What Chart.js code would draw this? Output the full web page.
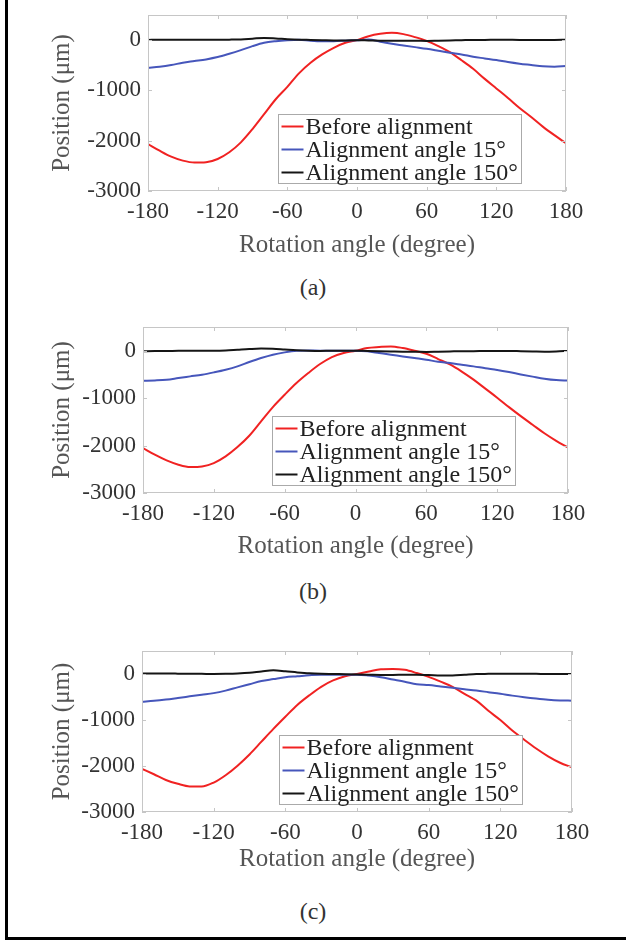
<!DOCTYPE html>
<html>
<head>
<meta charset="utf-8">
<script src="https://cdn.jsdelivr.net/npm/chart.js@4.4.1/dist/chart.umd.min.js"></script>
<style>
    html, body { margin: 0; padding: 0; background: #fff; }
    #page { position: relative; width: 626px; height: 941px; overflow: hidden; background: #fff; }
    .panel { position: absolute; left: 0; width: 626px; }
    .caption { position: absolute; left: 0; width: 626px; text-align: center; font: 24px 'Liberation Serif', serif; line-height: 26px; color: #333; }
    .frame-left { position: absolute; left: 5px; top: 0; width: 3px; height: 940px; background: #000; }
    .frame-bottom { position: absolute; left: 5px; top: 937px; width: 621px; height: 3px; background: #000; }
</style>
</head>
<body>
<div id="page">
    <div class="frame-left"></div>
    <div class="frame-bottom"></div>
</div>
<script>
(function() {
    'use strict';

    // x positions of the samples (degrees)
    var angles = [-180, -170, -160, -150, -140, -130, -120, -110, -100, -90, -80, -70, -60, -50, -40, -30, -20, -10,
        0, 10, 20, 30, 40, 50, 60, 70, 80, 90, 100, 110, 120, 130, 140, 150, 160, 170, 180];
    var xTicks = [-180, -120, -60, 0, 60, 120, 180];
    var yTicks = [-3000, -2000, -1000, 0];
    var seriesLabels = ['Before alignment', 'Alignment angle 15°', 'Alignment angle 150°'];
    var seriesColors = ['#f02222', '#4656bb', '#151515'];

    // (a)
    var redA = [-2066, -2198, -2317, -2396, -2435, -2429, -2363, -2230, -2033, -1769, -1472, -1175, -930, -660, -449, -284, -152, -53,
        0, 79, 125, 145, 120, 60, -15, -120, -240, -400, -570, -770, -960, -1150, -1350, -1530, -1720, -1890, -2050];
    var blueA = [-548, -528, -495, -449, -416, -383, -337, -271, -198, -119, -53, -20, 0, 10, -10, -20, -20, -10,
        0, 12, -30, -73, -106, -139, -172, -211, -251, -284, -330, -363, -396, -436, -469, -495, -521, -528, -515];
    var blackA = [5, 8, 10, 10, 10, 8, 8, 10, 15, 30, 45, 35, 20, 10, 5, 0, -5, -5,
        0, -5, -10, -10, -10, -10, -15, -10, -5, 0, 5, 5, 10, 8, 5, 5, 5, 5, 8];

    // (b)
    var redB = [-2053, -2193, -2313, -2404, -2453, -2439, -2369, -2228, -2032, -1793, -1490, -1188, -928, -682, -471, -281, -134, -49,
        0, 56, 77, 91, 56, 0, -63, -176, -290, -440, -610, -800, -990, -1190, -1380, -1560, -1740, -1900, -2040];
    var blueB = [-633, -626, -612, -576, -541, -506, -457, -401, -330, -239, -155, -84, -35, 0, 7, 0, 0, 0,
        0, -14, -49, -84, -120, -155, -190, -232, -260, -295, -330, -370, -406, -450, -500, -546, -590, -620, -630];
    var blackB = [-10, -8, -5, -3, 0, 0, 0, 5, 20, 35, 45, 40, 25, 10, 0, -5, 0, 0,
        0, -5, -10, -15, -20, -20, -25, -20, -15, -10, -10, -5, -5, -5, -10, -15, -20, -15, -5];

    // (c)
    var redC = [-2061, -2180, -2304, -2387, -2443, -2445, -2360, -2200, -1992, -1749, -1471, -1194, -930, -673, -465, -278, -139, -49,
        0, 56, 104, 111, 90, 21, -62, -167, -278, -430, -580, -800, -1000, -1230, -1430, -1620, -1790, -1930, -2030];
    var blueC = [-604, -583, -555, -521, -486, -451, -416, -361, -291, -222, -153, -111, -69, -49, -28, -14, -14, -14,
        -14, -35, -69, -118, -167, -222, -240, -270, -300, -330, -360, -395, -430, -470, -505, -535, -560, -575, -580];
    var blackC = [10, 10, 10, 8, 5, 3, 0, 3, 10, 25, 55, 80, 60, 35, 15, 5, 0, -5,
        -10, -15, -20, -20, -15, -15, -20, -30, -30, -15, 0, 3, 5, 5, 5, 3, 0, 0, 0];

    var FONT = "'Liberation Serif', 'Times New Roman', serif";

    var panels = [
        { top: 0,   plotTop: 15,  plotBottom: 191, left: 148, right: 566, axisH: 70, legendX: 130, caption: '(a)', captionY: 287, series: [redA, blueA, blackA] },
        { top: 312, plotTop: 327, plotBottom: 493, left: 143, right: 568, axisH: 69, legendX: 129, caption: '(b)', captionY: 591, series: [redB, blueB, blackB] },
        { top: 636, plotTop: 651, plotBottom: 812, left: 142, right: 572, axisH: 63, legendX: 137, caption: '(c)', captionY: 911, series: [redC, blueC, blackC] }
    ];

    function noScalePadding(s) {
        s.paddingTop = 0;
        s.paddingBottom = 0;
        s.paddingLeft = 0;
        s.paddingRight = 0;
    }

    // axes box with inward tick marks, drawn on top of the lines
    var boxPlugin = {
        id: 'axesBox',
        afterDatasetsDraw: function(chart) {
            var a = chart.chartArea;
            var ctx = chart.ctx;
            var sx = chart.scales.x;
            var sy = chart.scales.y;
            var len = 4;
            ctx.save();
            ctx.strokeStyle = '#c6c6c6';
            ctx.lineWidth = 1;
            ctx.strokeRect(Math.round(a.left) + 0.5, Math.round(a.top) + 0.5,
                Math.round(a.right - a.left) - 1, Math.round(a.bottom - a.top) - 1);
            ctx.beginPath();
            xTicks.forEach(function(v) {
                var px = Math.round(sx.getPixelForValue(v)) + 0.5;
                ctx.moveTo(px, a.bottom);
                ctx.lineTo(px, a.bottom - len);
                ctx.moveTo(px, a.top);
                ctx.lineTo(px, a.top + len);
            });
            yTicks.forEach(function(v) {
                var py = Math.round(sy.getPixelForValue(v)) + 0.5;
                ctx.moveTo(a.left, py);
                ctx.lineTo(a.left + len, py);
                ctx.moveTo(a.right, py);
                ctx.lineTo(a.right - len, py);
            });
            ctx.stroke();
            ctx.restore();
        }
    };

    // boxed legend inside the plot, lower middle
    var legendPlugin = {
        id: 'boxLegend',
        afterDraw: function(chart, args, opts) {
            var a = chart.chartArea;
            var ctx = chart.ctx;
            var sets = chart.data.datasets;
            var rowH = 23, lineLen = 22;
            ctx.save();
            ctx.font = '24px ' + FONT;
            var maxW = 0;
            sets.forEach(function(ds) {
                maxW = Math.max(maxW, ctx.measureText(ds.label).width);
            });
            var w = Math.round(3 + lineLen + 2 + maxW + 4);
            var h = rowH * sets.length;
            var left = Math.round(a.left + opts.offsetX) + 0.5;
            var top = Math.round(a.bottom - 8 - h) + 0.5;
            ctx.fillStyle = '#fff';
            ctx.fillRect(left, top, w, h);
            ctx.strokeStyle = '#aaaaaa';
            ctx.lineWidth = 1;
            ctx.strokeRect(left, top, w, h);
            sets.forEach(function(ds, i) {
                var cy = top + 12 + i * rowH;
                ctx.strokeStyle = ds.borderColor;
                ctx.lineWidth = 2;
                ctx.beginPath();
                ctx.moveTo(left + 3, cy);
                ctx.lineTo(left + 3 + lineLen, cy);
                ctx.stroke();
                ctx.fillStyle = '#222';
                ctx.textBaseline = 'middle';
                ctx.fillText(ds.label, left + 3 + lineLen + 2, cy + 1);
            });
            ctx.restore();
        }
    };

    var page = document.getElementById('page');

    panels.forEach(function(p) {
        var height = p.plotBottom - p.top + p.axisH;
        var wrap = document.createElement('div');
        wrap.className = 'panel';
        wrap.style.top = p.top + 'px';
        wrap.style.height = height + 'px';
        var canvas = document.createElement('canvas');
        canvas.width = 626;
        canvas.height = height;
        canvas.style.width = '626px';
        canvas.style.height = height + 'px';
        wrap.appendChild(canvas);
        page.appendChild(wrap);

        var cap = document.createElement('div');
        cap.className = 'caption';
        cap.style.top = (p.captionY - 13) + 'px';
        cap.textContent = p.caption;
        page.appendChild(cap);

        var datasets = p.series.map(function(vals, i) {
            return {
                label: seriesLabels[i],
                data: angles.map(function(a, k) { return { x: a, y: vals[k] }; }),
                borderColor: seriesColors[i],
                borderWidth: 2,
                pointRadius: 0,
                fill: false,
                cubicInterpolationMode: 'monotone',
                order: 2 - i
            };
        });

        new Chart(canvas, {
            type: 'line',
            data: { datasets: datasets },
            plugins: [boxPlugin, legendPlugin],
            options: {
                responsive: false,
                animation: false,
                events: [],
                layout: {
                    padding: { top: p.plotTop - p.top, left: 40, right: 626 - p.right, bottom: 0 }
                },
                plugins: {
                    legend: { display: false },
                    tooltip: { enabled: false },
                    boxLegend: { offsetX: p.legendX }
                },
                scales: {
                    x: {
                        type: 'linear',
                        min: -180,
                        max: 180,
                        grid: { display: false, drawTicks: false },
                        border: { display: false },
                        afterBuildTicks: function(s) { s.ticks = xTicks.map(function(v) { return { value: v }; }); },
                        afterFit: function(s) { s.height = p.axisH; noScalePadding(s); },
                        ticks: {
                            padding: 7,
                            maxRotation: 0,
                            color: '#333',
                            font: { family: FONT, size: 23 },
                            callback: function(v) { return String(v); }
                        },
                        title: {
                            display: true,
                            text: 'Rotation angle (degree)',
                            color: '#555',
                            font: { family: FONT, size: 25 },
                            padding: { top: 0, bottom: 1 }
                        }
                    },
                    y: {
                        type: 'linear',
                        min: -3000,
                        max: 500,
                        grid: { display: false, drawTicks: false },
                        border: { display: false },
                        afterBuildTicks: function(s) { s.ticks = yTicks.map(function(v) { return { value: v }; }); },
                        afterFit: function(s) { s.width = p.left - 40; noScalePadding(s); },
                        ticks: {
                            padding: 7,
                            color: '#333',
                            font: { family: FONT, size: 23 },
                            callback: function(v) { return String(v); }
                        },
                        title: {
                            display: true,
                            text: 'Position (μm)',
                            color: '#555',
                            font: { family: FONT, size: 25 },
                            padding: { top: 7, bottom: 0 }
                        }
                    }
                }
            }
        });
    });
})();
</script>
</body>
</html>
